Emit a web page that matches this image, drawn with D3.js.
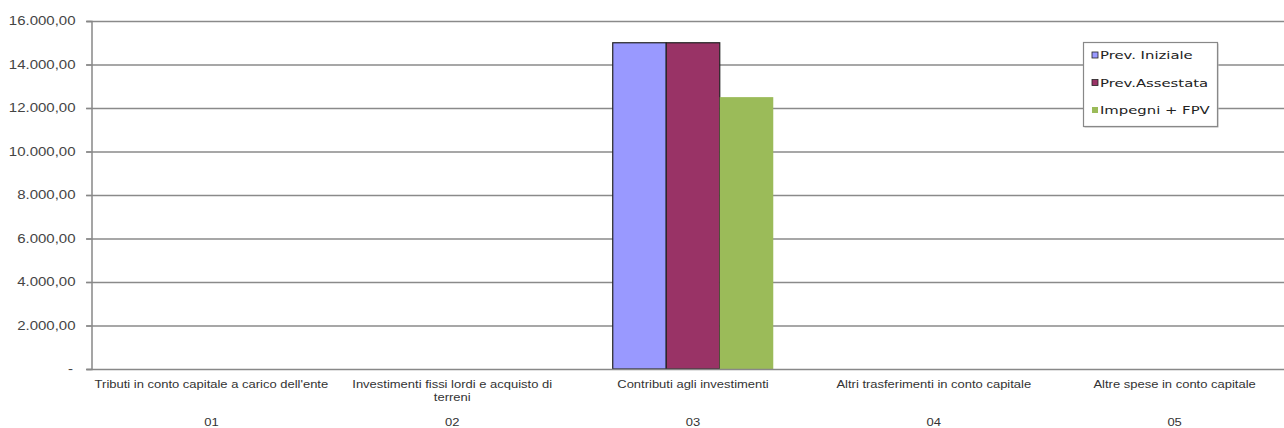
<!DOCTYPE html>
<html><head><meta charset="utf-8">
<script src="https://cdn.jsdelivr.net/npm/d3@7"></script>
<style>
html,body{margin:0;padding:0;background:#fff;}
svg{display:block;}
</style></head>
<body>
<svg id="chart" width="1284" height="428"></svg>
<script>
const categories = ["Tributi in conto capitale a carico dell'ente","Investimenti fissi lordi e acquisto di|terreni","Contributi agli investimenti","Altri trasferimenti in conto capitale","Altre spese in conto capitale"];
const codes = ["01","02","03","04","05"];
const seriesNames = ["Prev. Iniziale","Prev.Assestata","Impegni + FPV"];
const prevIniziale = [0,0,15000,0,0];
const prevAssestata = [0,0,15000,0,0];
const impegniFPV = [0,0,12500,0,0];
const yTicks = [0,2000,4000,6000,8000,10000,12000,14000,16000];
const colors = ["#9999FF","#993366","#9BBB59"];
const strokes = ["#222","#222","none"];

const series = [prevIniziale, prevAssestata, impegniFPV];
const svg = d3.select("#chart");
const x0 = d3.scaleBand().domain(codes).range([91,1295]).paddingInner(0).paddingOuter(0);
const x1 = d3.scaleBand().domain(seriesNames).range([0,x0.bandwidth()]).paddingOuter(0.75).paddingInner(0);
const y = d3.scaleLinear().domain([0,16000]).range([369,21]);
const SX = 1.3;

const itFmt = v => v===0 ? "-" : d3.format(",.2f")(v).replace(/,/g,"#").replace(/\./g,",").replace(/#/g,".");

// gridlines
svg.append("g").selectAll("line").data(yTicks.filter(d=>d>0)).join("line")
  .attr("x1",86).attr("x2",1284).attr("y1",d=>y(d)+0.5).attr("y2",d=>y(d)+0.5)
  .attr("stroke","#8a8a8a").attr("stroke-width",1.3);

// y axis
const yAxis = svg.append("g").attr("transform","translate(91.5,0)")
  .call(d3.axisLeft(y).tickValues(yTicks).tickFormat(itFmt).tickSize(5).tickPadding(10));
yAxis.select(".domain").attr("stroke","#888").attr("stroke-width",1.5);
yAxis.selectAll(".tick line").attr("stroke","#888").attr("stroke-width",1.3);
yAxis.selectAll(".tick text")
  .attr("fill","#444").style("font-family","Liberation Sans, Arial, sans-serif").style("font-size","12px")
  .attr("x",0).attr("transform","translate(-16,0) scale(1.25,1)");
yAxis.selectAll(".tick").filter(d=>d===0).select("text").attr("dx",-2);

// bars
const groups = svg.append("g").selectAll("g").data(codes).join("g")
  .attr("transform",d=>`translate(${x0(d)},0)`);
groups.selectAll("rect").data((d,i)=>series.map((s,k)=>({k,v:s[i]})).filter(o=>o.v>0)).join("rect")
  .attr("x",o=>x1(seriesNames[o.k])).attr("width",x1.bandwidth())
  .attr("y",o=>y(o.v)).attr("height",o=>y(0)-y(o.v))
  .attr("fill",o=>colors[o.k]).attr("stroke",o=>strokes[o.k]).attr("stroke-width",1.2);

// x axis baseline
svg.append("line").attr("x1",86).attr("x2",1284).attr("y1",369.5).attr("y2",369.5)
  .attr("stroke","#888").attr("stroke-width",1.5);

// category labels
const lab = svg.append("g").style("font-family","Liberation Sans, Arial, sans-serif").style("font-size","10px").attr("fill","#333");
categories.forEach((c,i)=>{
  const cx = x0(codes[i]) + x0.bandwidth()/2;
  const t = lab.append("text").attr("transform",`translate(${cx},388) scale(${SX},1)`).attr("text-anchor","middle");
  c.split("|").forEach((ln,j)=>t.append("tspan").attr("x",0).attr("dy",j===0?0:13).text(ln));
  lab.append("text").attr("transform",`translate(${cx},426) scale(${SX},1)`).attr("text-anchor","middle").text(codes[i]);
});

// legend
const lg = svg.append("g").attr("transform","translate(1083,42)");
lg.append("rect").attr("x",1.5).attr("y",1.5).attr("width",134).attr("height",84).attr("fill","#bbb");
lg.append("rect").attr("x",0.5).attr("y",0.5).attr("width",134).attr("height",84).attr("fill","#fff").attr("stroke","#888").attr("stroke-width",1.2);
seriesNames.forEach((n,i)=>{
  const yy = 13 + i*27.5;
  lg.append("rect").attr("x",9).attr("y",yy-3).attr("width",6).attr("height",6)
    .attr("fill",colors[i]).attr("stroke",strokes[i]==="none"?"none":"#222").attr("stroke-width",0.8);
  lg.append("text").attr("transform",`translate(17,${yy+4}) scale(1.35,1)`).text(n)
    .style("font-family","DejaVu Sans, Verdana, sans-serif").style("font-size","11px").attr("fill","#222");
});
</script>
</body></html>
